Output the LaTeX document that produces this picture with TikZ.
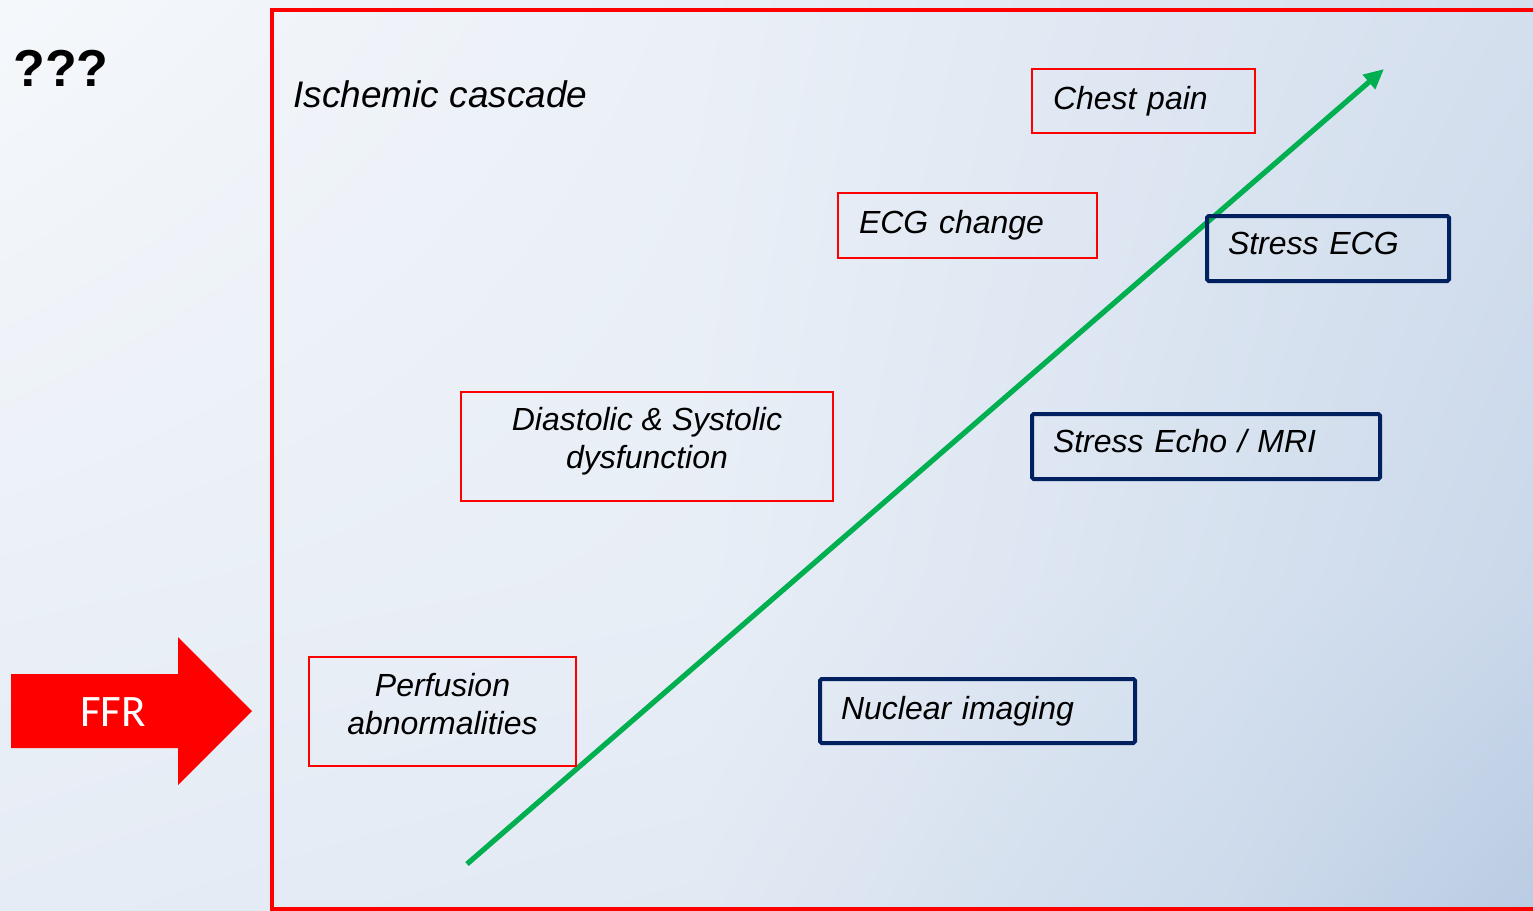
\documentclass[tikz,border=0pt]{standalone}
\usepackage{fontspec}
\setmainfont{Liberation Sans}
\newfontfamily\ffrfont{Carlito}
\usetikzlibrary{arrows.meta,shadings}
% background grid colours (x: 0,700,1230,1533 ; y: 0,585,911)
\definecolor{cAa}{HTML}{F5F8FB}\definecolor{cBa}{HTML}{EBF0F7}\definecolor{cCa}{HTML}{DCE5F1}\definecolor{cDa}{HTML}{D4DFEE}
\definecolor{cAb}{HTML}{EBF0F7}\definecolor{cBb}{HTML}{E8EEF6}\definecolor{cCb}{HTML}{D6E1EF}\definecolor{cDb}{HTML}{CAD8EA}
\definecolor{cAc}{HTML}{E6ECF5}\definecolor{cBc}{HTML}{E2E9F3}\definecolor{cCc}{HTML}{CCDAEB}\definecolor{cDc}{HTML}{BACCE3}
\definecolor{navy}{HTML}{002060}
\definecolor{arrowgreen}{HTML}{00B050}
\tikzset{
  boxtext/.style={font=\fontsize{16}{19}\selectfont\itshape, text=black},
  redbox/.style={boxtext, draw=red, line width=1pt, rectangle},
  navybox/.style={boxtext, draw=navy, line width=2pt, rectangle, rounded corners=0.8pt},
  leftbox/.style={inner xsep=10.5pt, align=left},
  centerbox/.style={align=center},
  cascade/.style={draw=arrowgreen, line width=2.6pt, -{Triangle[length=10pt,width=9pt]}},
  frame/.style={draw=red, line width=1.6pt},
}
\begin{document}
\begin{tikzpicture}[x=0.5pt,y=-0.5pt]
\useasboundingbox (0,0) rectangle (1533,911);
\clip (0,0) rectangle (1533,911);
% background: bilinear patches
\shade[upper left=cAa, upper right=cBa, lower left=cAb, lower right=cBb] (-1,-1) rectangle (701,586);
\shade[upper left=cBa, upper right=cCa, lower left=cBb, lower right=cCb] (699,-1) rectangle (1231,586);
\shade[upper left=cCa, upper right=cDa, lower left=cCb, lower right=cDb] (1229,-1) rectangle (1534,586);
\shade[upper left=cAb, upper right=cBb, lower left=cAc, lower right=cBc] (-1,584) rectangle (701,912);
\shade[upper left=cBb, upper right=cCb, lower left=cBc, lower right=cCc] (699,584) rectangle (1231,912);
\shade[upper left=cCb, upper right=cDb, lower left=cCc, lower right=cDc] (1229,584) rectangle (1534,912);

% red frame (right side off picture)
\draw[frame] (1545,10) -- (272,10) -- (272,909) -- (1545,909);

% texts
\node[anchor=base west, inner sep=0, font=\fontsize{26}{30}\selectfont\bfseries] (qqq) at (13,86) {???};
\node[anchor=base west, inner sep=0, font=\fontsize{18.5}{22}\selectfont\itshape] (title) at (293,107) {Ischemic cascade};

% FFR arrow
\fill[red] (11,674) -- (178,674) -- (178,637) -- (252,711) -- (178,785) -- (178,748) -- (11,748) -- cycle;
\node[text=white, font=\fontsize{22.5}{27}\selectfont\ffrfont, inner sep=0] (ffr) at (113,712) {FFR};

% green cascade arrow
\coordinate (gs) at (467,864);
\coordinate (ge) at (1384,69);
\draw[cascade] (gs) -- (ge);

% red boxes
\node[redbox, leftbox, minimum width=111.5pt, minimum height=32pt, text width=90.5pt] (chest) at (1143.5,101) {Chest pain};
\node[redbox, leftbox, minimum width=129.5pt, minimum height=32.5pt, text width=108.5pt] (ecg) at (967.5,225.5) {ECG change};
\node[redbox, centerbox, minimum width=186pt, minimum height=54.5pt, text depth=8.5pt] (diast) at (647,446.5) {Diastolic \& Systolic\\dysfunction};
\node[redbox, centerbox, minimum width=133.5pt, minimum height=54.5pt, text depth=8pt] (perf) at (442.5,711.5) {Perfusion\\abnormalities};

% navy boxes
\node[navybox, leftbox, minimum width=121pt, minimum height=32.5pt, text width=100pt, text depth=5pt] (secg) at (1328,248.5) {Stress ECG};
\node[navybox, leftbox, minimum width=174pt, minimum height=32.5pt, text width=153pt, text depth=5.5pt] (echo) at (1206,446.5) {Stress Echo / MRI};
\node[navybox, leftbox, minimum width=157.5pt, minimum height=32pt, text width=136.5pt] (nuc) at (977.5,711) {Nuclear imaging};
\end{tikzpicture}
\end{document}
